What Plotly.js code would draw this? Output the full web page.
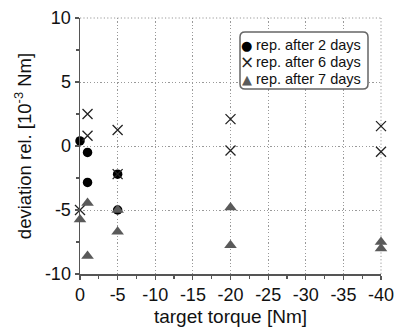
<!DOCTYPE html>
<html>
<head>
<meta charset="utf-8">
<script src="https://cdn.plot.ly/plotly-3.0.1.min.js"></script>
<style>html,body{margin:0;padding:0;background:#fff;}#chart{width:396px;height:331px;}</style>
</head>
<body>
<div id="chart"></div>
<script>
// target torque [Nm]
const x2days = [0, -1, -1, -5, -5];
const y2days = [0.4, -0.5, -2.85, -2.2, -5.0];
const x6days = [0, -1, -1, -5, -5, -20, -20, -40, -40];
const y6days = [-5.0, 2.5, 0.8, 1.25, -2.2, 2.1, -0.35, 1.55, -0.45];
const x7days = [0, -1, -1, -5, -5, -20, -20, -40, -40];
const y7days = [-5.75, -4.45, -8.6, -6.7, -5.0, -4.8, -7.75, -7.5, -8.0];
const xTicks = [0, -5, -10, -15, -20, -25, -30, -35, -40];
const yTicks = [-10, -5, 0, 5, 10];
const seriesNames = ['rep. after 2 days', 'rep. after 6 days', 'rep. after 7 days'];
const legendSymbols = ['\u25CF', '\u00D7', '\u25B2'];
const seriesColors = ['#000000', '#222222', '#5a5a5a'];

const traces = [
  {x: x2days, y: y2days, name: seriesNames[0], type: 'scatter', mode: 'markers', cliponaxis: false,
   marker: {symbol: 'circle', size: 9.5, color: seriesColors[0]}},
  {x: x6days, y: y6days, name: seriesNames[1], type: 'scatter', mode: 'markers', cliponaxis: false,
   marker: {symbol: 'x-thin-open', size: 10, color: seriesColors[1], line: {width: 1.3, color: seriesColors[1]}}},
  {x: x7days, y: y7days, name: seriesNames[2], type: 'scatter', mode: 'markers', cliponaxis: false,
   marker: {symbol: 'triangle-up', size: 11, color: seriesColors[2]}}
];

// plot area in px: left 80, right 381, top 18, bottom 274
const PL = 80, PW = 301, PT = 18, PH = 256;
const px = v => (v - PL) / PW;
const py = v => (PT + PH - v) / PH;

// rounded legend box
const bx0 = px(240), bx1 = px(368), by0 = py(89), by1 = py(32);
const rx = 5 / PW, ry = 5 / PH;
const boxPath = `M ${bx0 + rx} ${by1} L ${bx1 - rx} ${by1} Q ${bx1} ${by1} ${bx1} ${by1 - ry} ` +
  `L ${bx1} ${by0 + ry} Q ${bx1} ${by0} ${bx1 - rx} ${by0} L ${bx0 + rx} ${by0} ` +
  `Q ${bx0} ${by0} ${bx0} ${by0 + ry} L ${bx0} ${by1 - ry} Q ${bx0} ${by1} ${bx0 + rx} ${by1} Z`;

const fontFam = 'Liberation Sans, Arial, sans-serif';
const rowsY = [45, 62, 79];
const annotations = [];
seriesNames.forEach((n, i) => {
  annotations.push({xref: 'paper', yref: 'paper', x: px(246.5), y: py(rowsY[i]), xanchor: 'center', yanchor: 'middle',
    text: legendSymbols[i], showarrow: false,
    font: {family: 'DejaVu Sans, sans-serif', size: i === 1 ? 17 : 13, color: seriesColors[i]}});
  annotations.push({xref: 'paper', yref: 'paper', x: px(254), y: py(rowsY[i]), xanchor: 'left', yanchor: 'middle',
    text: n, showarrow: false, font: {family: fontFam, size: 14.5, color: '#111'}});
});

const gridDash = '1.2px,2.2px';
const layout = {
  width: 396, height: 331,
  margin: {l: 80, r: 15, t: 18, b: 57},
  paper_bgcolor: '#fff', plot_bgcolor: '#fff',
  font: {family: fontFam, color: '#111', size: 18},
  showlegend: false,
  shapes: [
    {type: 'line', xref: 'paper', yref: 'paper', x0: 0, x1: 1, y0: 1, y1: 1, layer: 'below',
     line: {color: '#999', width: 1, dash: gridDash}},
    {type: 'line', xref: 'paper', yref: 'paper', x0: 1, x1: 1, y0: 0, y1: 1, layer: 'below',
     line: {color: '#999', width: 1, dash: gridDash}},
    {type: 'path', xref: 'paper', yref: 'paper', path: boxPath, layer: 'above',
     fillcolor: '#fff', line: {color: '#666', width: 1.5}}
  ],
  annotations: annotations,
  xaxis: {
    range: [0, -40], tickvals: xTicks, ticktext: xTicks.map(String),
    showline: true, linecolor: '#555', linewidth: 1.5,
    ticks: 'outside', ticklen: 4, tickcolor: '#555', tickwidth: 1.2,
    minor: {dtick: 2.5, tick0: 0, ticks: 'outside', ticklen: 3, tickcolor: '#555', showgrid: false},
    showgrid: true, gridcolor: '#999', griddash: gridDash, gridwidth: 1,
    zeroline: false, tickfont: {size: 18},
    title: {text: 'target torque [Nm]', font: {size: 19}, standoff: 5}
  },
  yaxis: {
    range: [-10, 10], tickvals: yTicks, ticktext: yTicks.map(String),
    showline: true, linecolor: '#555', linewidth: 1.5,
    ticks: 'outside', ticklen: 4, tickcolor: '#555', tickwidth: 1.2,
    minor: {dtick: 2.5, tick0: 0, ticks: 'outside', ticklen: 3, tickcolor: '#555', showgrid: false},
    showgrid: true, gridcolor: '#999', griddash: gridDash, gridwidth: 1,
    zeroline: false, tickfont: {size: 18},
    title: {text: 'deviation rel. [10<sup>-3</sup> Nm]', font: {size: 18.5}, standoff: 8}
  }
};
Plotly.newPlot('chart', traces, layout, {staticPlot: true, displayModeBar: false});
</script>
</body>
</html>
